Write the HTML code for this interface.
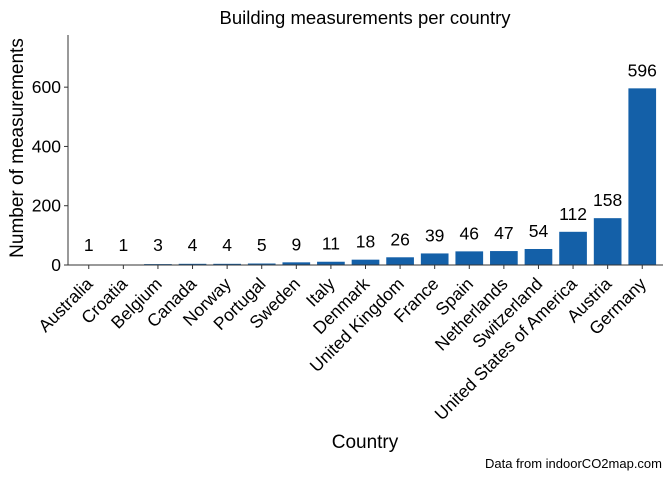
<!DOCTYPE html>
<html><head><meta charset="utf-8"><style>
body{margin:0;background:#fff;}
svg text{font-family:"Liberation Sans",Arial,sans-serif;}
</style></head><body>
<svg id="chart" width="672" height="480" xmlns="http://www.w3.org/2000/svg">
<rect width="672" height="480" fill="#fff"/>
<text x="365" y="24" font-size="18.5" text-anchor="middle" fill="#000">Building measurements per country</text>
<text transform="translate(23,148) rotate(-90)" font-size="19" text-anchor="middle" fill="#000">Number of measurements</text>
<text x="365" y="448" font-size="19" text-anchor="middle" fill="#000">Country</text>
<text x="662" y="468" font-size="13" text-anchor="end" fill="#000">Data from indoorCO2map.com</text>
<g id="bars"></g><g id="labels"></g><g id="axes"></g>
</svg>
<script>
const categories=["Australia","Croatia","Belgium","Canada","Norway","Portugal","Sweden","Italy","Denmark","United Kingdom","France","Spain","Netherlands","Switzerland","United States of America","Austria","Germany"];
const values=[1,1,3,4,4,5,9,11,18,26,39,46,47,54,112,158,596];
const yTicks=[0,200,400,600];
const NS="http://www.w3.org/2000/svg";
const x0=68,x1=663,yb=265,yt=35,yMax=776;
const step=(x1-x0)/(categories.length-1+1.2);
const xC=i=>x0+(0.6+i)*step;
const yS=v=>yb-(v/yMax)*(yb-yt);
function mk(t,a,p){const e=document.createElementNS(NS,t);for(const k in a)e.setAttribute(k,a[k]);p.appendChild(e);return e;}
const gb=document.getElementById('bars'),gl=document.getElementById('labels'),ga=document.getElementById('axes');
categories.forEach((c,i)=>{
 const w=step*0.8;
 const r=mk('rect',{x:xC(i)-w/2,y:yS(values[i]),width:w,height:yb-yS(values[i]),fill:'#1460a8'},gb);
 
 
 const t=mk('text',{x:xC(i),y:Math.min(yS(values[i])-12,251),'font-size':17.5,'text-anchor':'middle',fill:'#000'},gl);
 t.textContent=values[i];
 
 
 const cx=xC(i),cy=yb+14;
 const l=mk('text',{x:cx+5,y:cy+6,'font-size':17.5,'text-anchor':'end',fill:'#000',transform:`rotate(-45 ${cx+5} ${cy+6})`},ga);
 l.textContent=c;
 
 
 mk('line',{x1:cx,x2:cx,y1:yb,y2:yb+4,stroke:'#333'},ga);
});
yTicks.forEach(v=>{
 mk('line',{x1:x0-4,x2:x0,y1:yS(v),y2:yS(v),stroke:'#333'},ga);
 const t=mk('text',{x:x0-7,y:yS(v)+6,'font-size':17.5,'text-anchor':'end',fill:'#000'},ga);
 t.textContent=v;
 
 
});
const ya=mk('line',{x1:x0,x2:x0,y1:yt,y2:yb,stroke:'#333'},ga);


const xa=mk('line',{x1:x0,x2:x1,y1:yb,y2:yb,stroke:'#333'},ga);


</script>
</body></html>
